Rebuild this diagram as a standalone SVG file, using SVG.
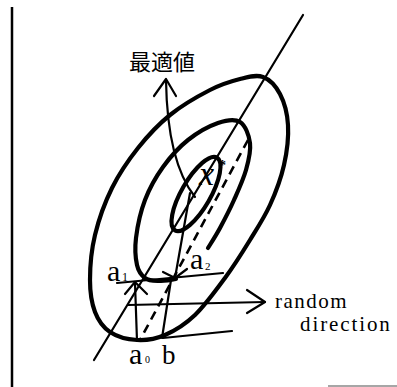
<svg xmlns="http://www.w3.org/2000/svg" width="397" height="387" viewBox="0 0 397 387">
<style>
.thick{fill:none;stroke:#000;stroke-width:4.2;stroke-linecap:round;stroke-linejoin:round}
.thin{fill:none;stroke:#000;stroke-width:2.2;stroke-linecap:round;stroke-linejoin:round}
.dash{fill:none;stroke:#000;stroke-width:2.6;stroke-dasharray:9 6}
.lbl{font-family:"Liberation Serif","Times New Roman",serif;fill:#000}
.cjk{font-family:"Noto Sans CJK JP","Noto Sans CJK SC",sans-serif;fill:#000}
</style>
<rect width="397" height="387" fill="#fff"/>
<g id="frame">
<line x1="12" y1="7" x2="12" y2="387" stroke="#000" stroke-width="2.5"/>
<line x1="328" y1="386" x2="397" y2="386" stroke="#888" stroke-width="1.5"/>
</g>
<g id="outer-contour">
<path class="thick" d="M263,77 C269.7,79.5 275.8,86 280,94 C284.2,102 287.3,113.2 288,125 C288.7,136.8 287,151.7 284,165 C281,178.3 275.7,192.5 270,205 C264.3,217.5 257.5,227.8 250,240 C242.5,252.2 234.2,265.5 225,278 C215.8,290.5 205,305.5 195,315 C185,324.5 174.7,330.8 165,335 C155.3,339.2 146.2,340.5 137,340 C127.8,339.5 117,336.7 110,332 C103,327.3 98.3,320.7 95,312 C91.7,303.3 90,292.8 90,280 C90,267.2 91.3,250.3 95,235 C98.7,219.7 104.8,202.5 112,188 C119.2,173.5 128.3,160.2 138,148 C147.7,135.8 158,124.7 170,115 C182,105.3 198.3,96 210,90 C221.7,84 231.2,81.2 240,79 C248.8,76.8 256.3,74.5 263,77 Z"/>
</g>
<g id="middle-contour">
<path class="thick" d="M208,248 C210,244.7 215.7,236 220,228 C224.3,220 229.7,209.7 234,200 C238.3,190.3 243.3,179.5 246,170 C248.7,160.5 251,151 250,143 C249,135 245.3,125.3 240,122 C234.7,118.7 226.7,120 218,123 C209.3,126 197.2,132.7 188,140 C178.8,147.3 170.2,157 163,167 C155.8,177 149.5,188.2 145,200 C140.5,211.8 137.3,227.2 136,238 C134.7,248.8 135.5,258.3 137,265 C138.5,271.7 141.5,275.3 145,278 C148.5,280.7 152.8,280.8 158,281 C163.2,281.2 173,279.3 176,279"/>
</g>
<g id="inner-contour">
<ellipse class="thick" cx="196" cy="194" rx="42" ry="14.5" transform="rotate(-60 196 194)"/>
</g>
<g id="connectors">
<line class="thin" x1="303" y1="15" x2="94" y2="360"/>
<line class="dash" x1="248" y1="140" x2="140" y2="340"/>
<line class="thin" x1="117" y1="283" x2="223" y2="273"/>
<line class="thin" x1="163" y1="338" x2="232" y2="331"/>
<line class="thin" x1="128" y1="305" x2="265" y2="302"/>
<polyline class="thin" points="247,290 265,302 247,313"/>
<line class="thin" x1="137" y1="341" x2="135" y2="283"/>
<polyline class="thin" points="125,294 135,282 147,294"/>
<line class="thin" x1="162" y1="338" x2="171" y2="280"/>
<line class="thin" x1="190" y1="193" x2="175" y2="278"/>
<polyline class="thin" points="163,272 175,278 187,269"/>
<path class="thin" d="M195,197 C180,178 167,145 166,80"/>
<polyline class="thin" points="154,96 166,79 176,96"/>
</g>
<g id="labels">
<text class="cjk" x="129" y="70" font-size="22">最適値</text>
<text class="lbl" x="199" y="185" font-size="34" font-style="italic">x</text>
<text class="lbl" x="219" y="170" font-size="14" font-weight="bold">*</text>
<text class="lbl" x="107" y="281" font-size="30">a</text>
<text class="lbl" x="122" y="281" font-size="12">1</text>
<text class="lbl" x="190" y="269" font-size="30">a</text>
<text class="lbl" x="205" y="270" font-size="11">2</text>
<text class="lbl" x="129" y="364" font-size="30">a</text>
<text class="lbl" x="145" y="363" font-size="10">0</text>
<text class="lbl" x="162" y="364" font-size="27">b</text>
<text class="lbl" x="275" y="308" font-size="21" letter-spacing="1.5">random</text>
<text class="lbl" x="300" y="331" font-size="21" letter-spacing="1.9">direction</text>
</g>
</svg>
